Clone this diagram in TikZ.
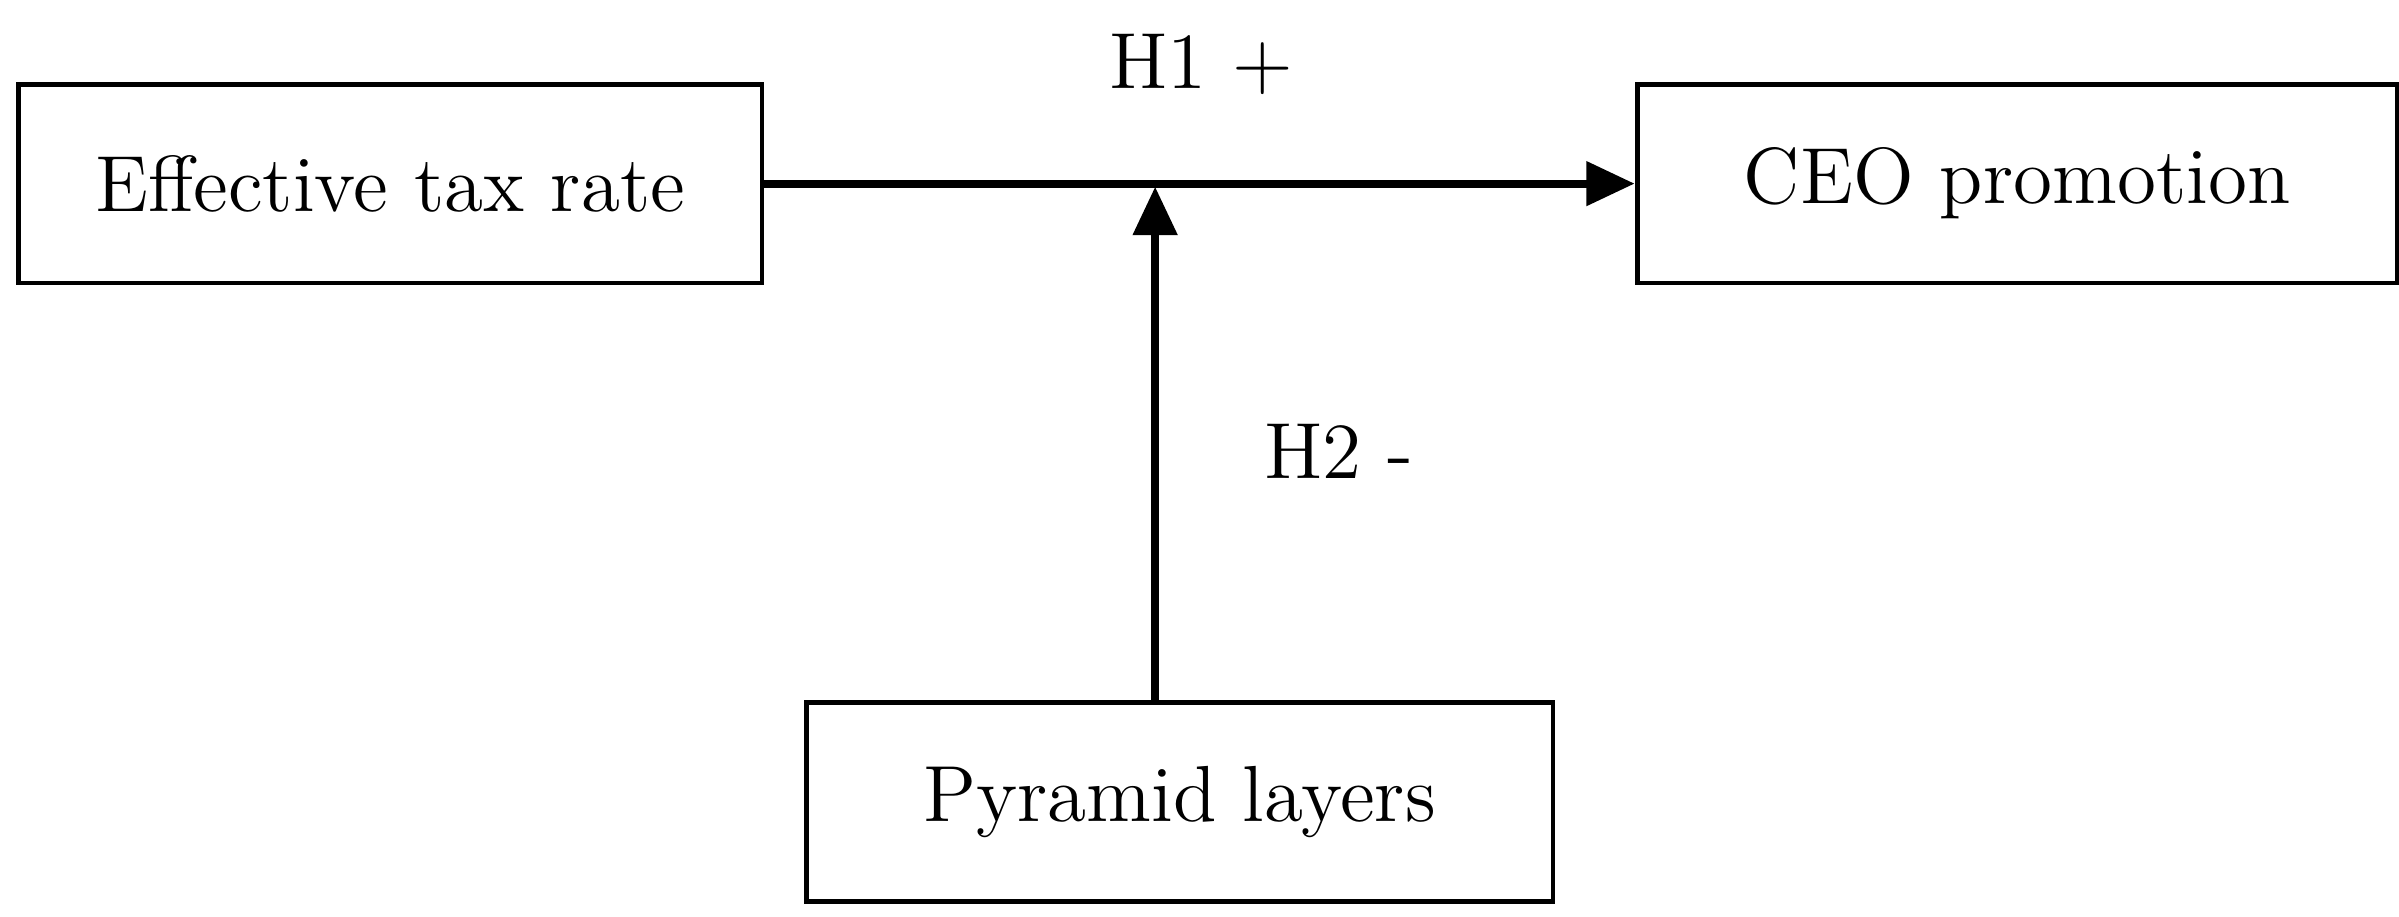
\documentclass[tikz,border=0pt]{standalone}
\usetikzlibrary{arrows.meta}
\begin{document}
\begin{tikzpicture}[
    box/.style={draw, line width=0.9pt, minimum height=1.3cm, font=\fontsize{14.8}{17}\selectfont},
    link/.style={line width=1.5pt, -{Triangle[length=9pt,width=8pt]}},
    lbl/.style={font=\fontsize{14.8}{17}\selectfont}]
    \useasboundingbox (0,0) rectangle (15.68,-5.99);
    % boxes
    \node[box, minimum width=4.86cm] (etr) at (2.55,-1.20) {Effective tax rate};
    \node[box, minimum width=4.97cm] (ceo) at (13.185,-1.20) {CEO promotion};
    \node[box, minimum width=4.88cm] (pyr) at (7.71,-5.24) {Pyramid layers};
    \coordinate (mid) at (7.55,-1.22);
    % arrows
    \draw[link] (etr) -- (ceo);
    \draw[link] (pyr.north -| mid) -- (mid);
    \node[lbl] (h1) at (7.85,-0.42) {H1 +};
    \node[lbl] (h2) at (8.75,-2.95) {H2 -};
\end{tikzpicture}
\end{document}
